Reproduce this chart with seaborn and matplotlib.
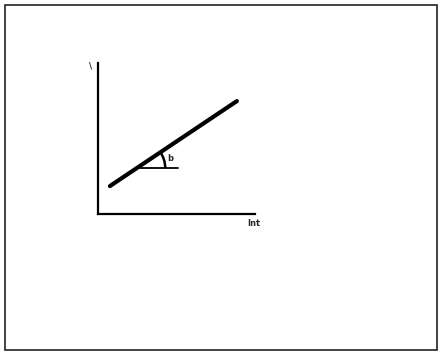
import numpy as np
import pandas as pd
import matplotlib.pyplot as plt
import seaborn as sns
from matplotlib.patches import Arc, Rectangle

# schematic straight line (axis units 0-10)
line_x = [0.76, 8.85]
line_y = [1.85, 7.48]
# horizontal reference line at the foot of the angle
ref_x = [2.68, 5.10]
ref_y = 3.05
slope_angle = 33.8
x_label = 'lnt'
y_label = '\\'
angle_label = 'b'

sns.set_theme(style='white')
plt.rcParams['font.family'] = ['DejaVu Sans']

fig = plt.figure(figsize=(4.42, 3.56), dpi=100)
fig.patch.set_facecolor('white')
fig.patches.append(Rectangle((0.0113, 0.0169), 0.977, 0.969, transform=fig.transFigure,
                             fill=False, edgecolor='#222222', linewidth=1.2))

ax = fig.add_axes([0.2217, 0.3989, 0.355, 0.424])
ax.set_facecolor('white')
df = pd.DataFrame({'x': line_x, 'y': line_y})
sns.lineplot(data=df, x='x', y='y', ax=ax, color='black', linewidth=3.0)

# where the main line meets the reference level
x0 = line_x[0] + (ref_y - line_y[0]) * (line_x[1] - line_x[0]) / (line_y[1] - line_y[0])
ax.plot(ref_x, [ref_y, ref_y], color='black', linewidth=1.3)
ax.add_patch(Arc((x0, ref_y), 3.6, 3.7, theta1=0, theta2=slope_angle,
                 color='black', linewidth=1.8))
ax.text(x0 + 1.9, ref_y + 0.6, angle_label, fontsize=6, fontweight='bold', ha='left', va='center')

ax.set_xlim(0, 10)
ax.set_ylim(0, 10)
ax.set_xticks([])
ax.set_yticks([])
ax.set_xlabel('')
ax.set_ylabel('')
sns.despine(ax=ax, top=True, right=True)
for s in ['left', 'bottom']:
    ax.spines[s].set_color('black')
    ax.spines[s].set_linewidth(1.6)

ax.text(-0.45, 9.8, y_label, fontsize=6, fontweight='bold', ha='center', va='center')
ax.text(9.9, -0.6, x_label, fontsize=6, fontweight='bold', ha='center', va='center')

fig.savefig('out.png', dpi=100)
